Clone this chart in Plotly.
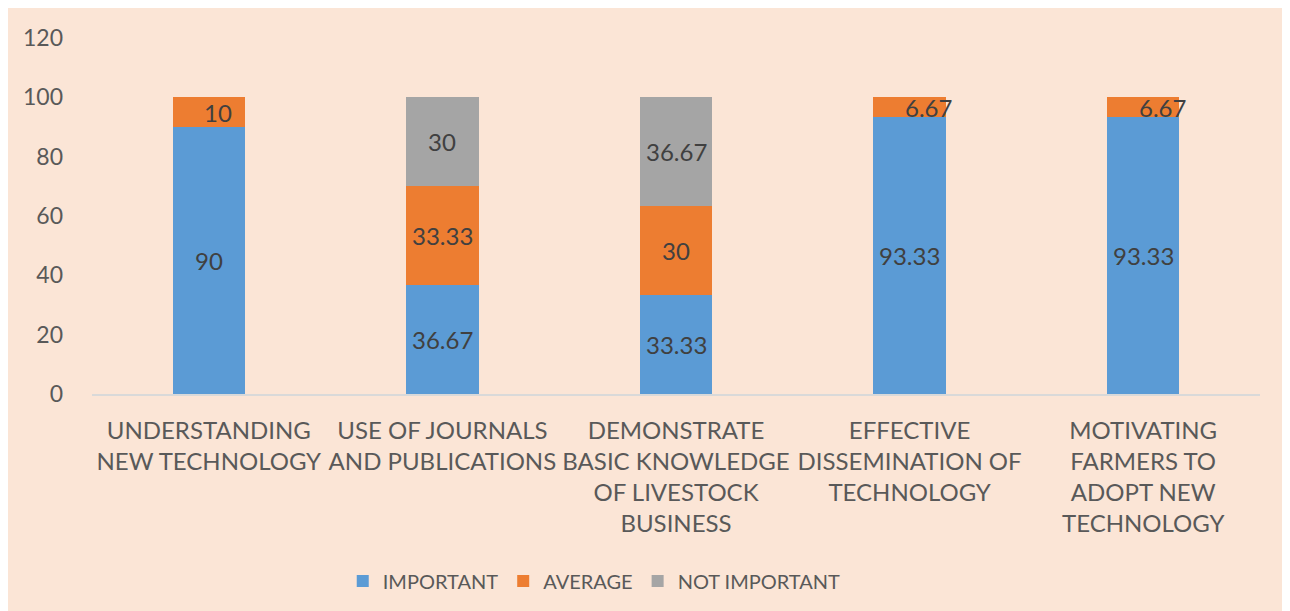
import plotly.graph_objects as go

categories = [
    "UNDERSTANDING<br>NEW TECHNOLOGY",
    "USE OF JOURNALS<br>AND PUBLICATIONS",
    "DEMONSTRATE<br>BASIC KNOWLEDGE<br>OF LIVESTOCK<br>BUSINESS",
    "EFFECTIVE<br>DISSEMINATION OF<br>TECHNOLOGY",
    "MOTIVATING<br>FARMERS TO<br>ADOPT NEW<br>TECHNOLOGY",
]
important = [90, 36.67, 33.33, 93.33, 93.33]
average = [10, 33.33, 30, 6.67, 6.67]
not_important = [None, 30, 36.67, None, None]

series = [
    ("IMPORTANT", important, "#5B9BD5"),
    ("AVERAGE", average, "#ED7D31"),
    ("NOT IMPORTANT", not_important, "#A5A5A5"),
]

FONT = "Lato, Calibri, Carlito, sans-serif"
fig = go.Figure()
for name, vals, col in series:
    fig.add_trace(go.Bar(
        x=categories, y=vals, name=name, marker_color=col,
        marker_line_width=0,
    ))

# data labels centered in segments
annotations = []
base = [0] * len(categories)
for name, vals, col in series:
    for i, v in enumerate(vals):
        if v is None:
            continue
        mid = base[i] + v / 2
        shift = 0
        if v < 8:
            shift = 19
        elif v < 15:
            shift = 9
        annotations.append(dict(
            x=categories[i], y=mid, text=f"{v:g}", showarrow=False,
            xshift=shift, font=dict(family=FONT, size=24, color="#404040"),
        ))
        base[i] += v

fig.update_layout(
    width=1282, height=603,
    barmode="stack", bargap=0.69,
    paper_bgcolor="#FBE5D6", plot_bgcolor="#FBE5D6",
    margin=dict(l=84, r=30, t=30, b=216),
    font=dict(family=FONT, size=23, color="#595959"),
    legend=dict(orientation="h", x=0.43, xanchor="center", y=-0.521, yanchor="middle",
                font=dict(size=20, color="#595959"), itemwidth=30,
                traceorder="normal", bgcolor="rgba(0,0,0,0)"),
    xaxis=dict(showline=True, linecolor="#D9D9D9", linewidth=2, ticks="",
               ticklabelstandoff=14,
               tickfont=dict(size=24, color="#595959"), showgrid=False),
    yaxis=dict(range=[0, 120], dtick=20, showgrid=False, zeroline=False,
               showline=False, ticks="", ticklabelstandoff=28,
               tickfont=dict(size=23, color="#595959")),
    annotations=annotations,
)

fig.write_html("out.html")
